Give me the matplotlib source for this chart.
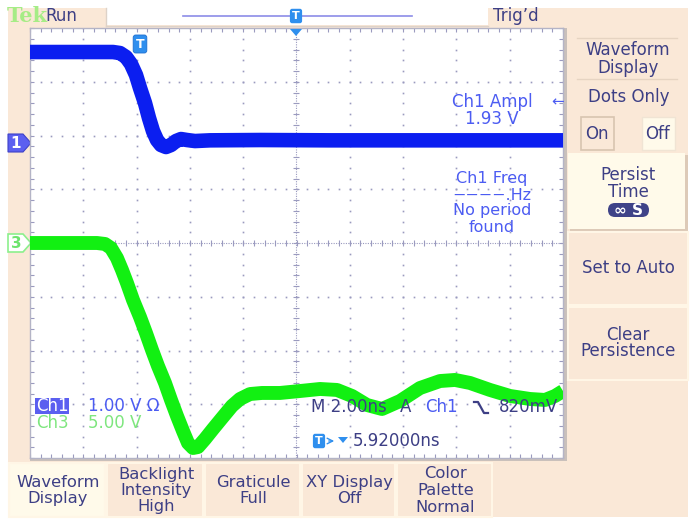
import numpy as np
import matplotlib
matplotlib.use("Agg")
import matplotlib.pyplot as plt
from matplotlib.patches import Rectangle, Polygon, FancyBboxPatch

# Kanal 1 (blau), Zeit in ns relativ zur Bildmitte, Spannung in V
ch1_t = [-10.0, -6.885, -6.623, -6.398, -6.210, -6.022, -5.872, -5.685, -5.535,
         -5.385, -5.234, -5.084, -4.897, -4.709, -4.521, -4.334, -4.109, -3.809,
         -3.246, -1.37, 1.26, 4.63, 10.0]
ch1_v = [1.693, 1.693, 1.674, 1.600, 1.470, 1.265, 1.023, 0.744, 0.465,
         0.223, 0.056, -0.037, -0.074, -0.037, 0.037, 0.074, 0.056, 0.037,
         0.050, 0.056, 0.050, 0.050, 0.050]

# Kanal 3 (gruen)
ch3_t = [-10.0, -7.486, -7.186, -6.961, -6.736, -6.548, -6.361, -6.135, -5.873,
         -5.648, -5.422, -5.197, -4.934, -4.709, -4.484, -4.259, -4.071, -3.884,
         -3.696, -3.433, -3.133, -2.795, -2.420, -2.120, -1.745, -1.295, -0.619,
         0.131, 0.882, 1.520, 2.083, 2.645, 3.208, 3.884, 4.634, 5.385, 5.948,
         6.510, 7.261, 8.011, 8.762, 9.325, 9.700, 10.0]
ch3_v = [0.0, 0.0, -0.09, -0.47, -1.40, -2.51, -3.72, -5.30, -6.88,
         -8.37, -9.95, -11.44, -13.02, -14.60, -16.09, -17.49, -18.60, -19.07,
         -18.98, -18.23, -17.30, -16.28, -15.16, -14.51, -14.05, -13.95, -13.95,
         -13.77, -13.58, -13.67, -14.23, -15.07, -15.44, -14.70, -13.49, -12.84, -12.74,
         -13.02, -13.67, -14.23, -14.51, -14.60, -14.23, -13.77]

ch1_volts_per_div = 1.0
ch3_volts_per_div = 5.0
ch1_offset_div = 1.86
ch3_offset_div = 0.0
time_per_div = 2.0

side_buttons = [["Set to Auto"], ["Clear", "Persistence"]]
bottom_buttons = [["Waveform", "Display"], ["Backlight", "Intensity", "High"],
                  ["Graticule", "Full"], ["XY Display", "Off"],
                  ["Color", "Palette", "Normal"]]

PEACH = "#fae8d7"
CREAM = "#fffaea"
NAVY = "#3d3f85"
MBLUE = "#4c5cf2"
TRACE1 = "#0b1ef0"
TRACE3 = "#12f012"
GRID = "#9a9abf"
TBLUE = "#2f8fee"


def main():
    plt.rcParams["font.family"] = ["DejaVu Sans"]
    W, H = 696, 519
    fig = plt.figure(figsize=(W / 100, H / 100), dpi=100, facecolor="white")

    # Hintergrund in Pixelkoordinaten
    bg = fig.add_axes([0, 0, 1, 1], zorder=0)
    bg.set_xlim(0, W)
    bg.set_ylim(H, 0)
    bg.axis("off")

    bg.add_patch(Rectangle((8, 8), 680, 509, fc=PEACH, ec="none"))
    bg.add_patch(Rectangle((106, 8), 382, 17, fc="white", ec="none"))
    bg.plot([106, 488], [25.5, 25.5], color="#ddd2c8", lw=1)
    bg.plot([106, 106], [8, 25.5], color="#ddd2c8", lw=1)
    bg.add_patch(Rectangle((30, 28), 537, 433, fc="#c9c0bb", ec="none"))

    # Kopfzeile
    bg.text(7, 16.5, "Tek", color="#a6ec86", fontsize=15, fontweight="bold",
            family="DejaVu Serif", va="center", ha="left")
    bg.text(45, 16, "Run", color=NAVY, fontsize=12, va="center", ha="left")
    bg.text(493, 16, "Trig\u2019d", color=NAVY, fontsize=12, va="center", ha="left")
    bg.plot([183, 412], [16, 16], color="#8c8ce8", lw=1.2)

    # rechte Leiste
    bg.plot([577, 677], [38, 38], color="#e6d4c2", lw=1)
    bg.plot([577, 677], [79, 79], color="#e6d4c2", lw=1)
    bg.text(628, 50, "Waveform", color=NAVY, fontsize=12, ha="center", va="center")
    bg.text(628, 68, "Display", color=NAVY, fontsize=12, ha="center", va="center")
    bg.text(629, 97, "Dots Only", color=NAVY, fontsize=12, ha="center", va="center")
    bg.add_patch(Rectangle((581, 117), 33, 33, fc=PEACH, ec="#d8c4b0", lw=1.2))
    bg.add_patch(Rectangle((642, 117), 33, 33, fc=CREAM, ec="#f0e4d4", lw=1))
    bg.text(597, 134, "On", color=NAVY, fontsize=12, ha="center", va="center")
    bg.text(658, 134, "Off", color=NAVY, fontsize=12, ha="center", va="center")

    bg.add_patch(Rectangle((570, 155), 118, 77, fc="#ddcab8", ec="none"))
    bg.add_patch(Rectangle((568, 153), 117, 76, fc=CREAM, ec="none"))
    bg.text(628, 175, "Persist", color=NAVY, fontsize=12, ha="center", va="center")
    bg.text(628, 192, "Time", color=NAVY, fontsize=12, ha="center", va="center")
    bg.add_patch(FancyBboxPatch((608, 203), 41, 14, boxstyle="round,pad=0,rounding_size=7",
                                fc="#3f4388", ec="none"))
    bg.text(628.5, 210.5, "\u221e S", color="white", fontsize=11, fontweight="bold",
            ha="center", va="center")

    y0 = 232
    for lines in side_buttons:
        bg.add_patch(Rectangle((568, y0), 120, 73, fc=PEACH, ec="#fff6e6", lw=1.5))
        cy = y0 + 36
        for i, txt in enumerate(lines):
            off = (i - (len(lines) - 1) / 2) * 17
            bg.text(628, cy + off, txt, color=NAVY, fontsize=12, ha="center", va="center")
        y0 += 75
    bg.plot([568, 688, 688], [380, 380, 232], color="#fff6e6", lw=1.5)

    # untere Tasten
    x_edges = [8, 106, 204, 301, 396, 493]
    for k, lines in enumerate(bottom_buttons):
        x_a, x_b = x_edges[k], x_edges[k + 1]
        fc = CREAM if k == 0 else PEACH
        bg.add_patch(Rectangle((x_a + 1, 463), x_b - x_a - 2, 54, fc=fc,
                               ec="#fff6e6", lw=1.5))
        cx = (x_a + x_b) / 2 + 1
        for i, txt in enumerate(lines):
            off = (i - (len(lines) - 1) / 2) * 16.5
            bg.text(cx, 490.5 + off, txt, color=NAVY, fontsize=11.8,
                    ha="center", va="center")

    # Kanalmarker
    bg.add_patch(Polygon([(8, 134), (23, 134), (31, 143), (23, 152), (8, 152)],
                         fc="#5b5ff0", ec="#3e42c8", lw=0.8))
    bg.text(16, 143.5, "1", color="white", fontsize=11, fontweight="bold",
            ha="center", va="center")
    bg.add_patch(Polygon([(8, 234), (23, 234), (31, 243), (23, 252), (8, 252)],
                         fc="white", ec="#8cf08c", lw=1.2))
    bg.text(16, 243.5, "3", color="#6ee46e", fontsize=11, fontweight="bold",
            ha="center", va="center")

    # Raster
    ax = fig.add_axes([30 / W, (H - 458) / H, 533 / W, 430 / H], zorder=1)
    ax.set_facecolor("white")
    x_lo, x_hi = -5 * time_per_div, 5 * time_per_div
    ax.set_xlim(x_lo, x_hi)
    ax.set_ylim(-4, 4)

    fine_x = np.arange(x_lo, x_hi + 1e-6, time_per_div / 5)
    fine_y = np.arange(-4, 4.001, 0.2)
    for gx in np.arange(x_lo + time_per_div, x_hi - 1e-6, time_per_div):
        if abs(gx) > 1e-6:
            ax.plot(np.full_like(fine_y, gx), fine_y, ls="none", marker="s",
                    ms=1.2, mew=0, color=GRID)
    for gy in range(-3, 4):
        if gy != 0:
            ax.plot(fine_x, np.full_like(fine_x, gy), ls="none", marker="s",
                    ms=1.2, mew=0, color=GRID)
    # Mittelkreuz
    ax.axhline(0, color=GRID, lw=0.8, ls=(0, (1, 1.2)))
    ax.axvline(0, color=GRID, lw=0.8, ls=(0, (1, 1.2)))
    ax.plot(fine_x, np.zeros_like(fine_x), ls="none", marker="|", ms=5, mew=0.8, color=GRID)
    ax.plot(np.zeros_like(fine_y), fine_y, ls="none", marker="_", ms=5, mew=0.8, color=GRID)

    ax.set_xticks(fine_x)
    ax.set_yticks(fine_y)
    ax.set_xticklabels([])
    ax.set_yticklabels([])
    ax.tick_params(direction="in", length=3, width=0.8, color=GRID,
                   top=True, right=True)
    for sp in ax.spines.values():
        sp.set_color("#b4b4c6")
        sp.set_linewidth(1)

    # Kurven
    y1 = np.array(ch1_v) / ch1_volts_per_div + ch1_offset_div
    y3 = np.array(ch3_v) / ch3_volts_per_div + ch3_offset_div
    ax.plot(ch3_t, y3, color=TRACE3, lw=10, solid_joinstyle="round",
            solid_capstyle="butt", zorder=3)
    ax.plot(ch1_t, y1, color=TRACE1, lw=10.5, solid_joinstyle="round",
            solid_capstyle="butt", zorder=4)

    # Texte ueber den Kurven
    ov = fig.add_axes([0, 0, 1, 1], zorder=2)
    ov.set_xlim(0, W)
    ov.set_ylim(H, 0)
    ov.axis("off")
    ov.patch.set_alpha(0)

    # Triggermarker
    ov.text(296, 16, "T", color="white", fontsize=8, fontweight="bold", ha="center",
            va="center", bbox=dict(boxstyle="round,pad=0.2", fc=TBLUE, ec="none"))
    ov.add_patch(Polygon([(290, 29), (302, 29), (296, 36)], fc=TBLUE, ec="none"))
    ov.text(140, 44, "T", color="white", fontsize=9, fontweight="bold", ha="center",
            va="center", bbox=dict(boxstyle="round,pad=0.2", fc=TBLUE, ec="#1c6fd0", lw=0.6))

    # Messwerte
    ov.text(492, 102, "Ch1 Ampl", color=MBLUE, fontsize=12, ha="center", va="center")
    ov.text(492, 119, "1.93 V", color=MBLUE, fontsize=12, ha="center", va="center")
    ov.text(558, 102, "\u2190", color=MBLUE, fontsize=11, ha="center", va="center")
    ov.text(492, 178, "Ch1 Freq", color=MBLUE, fontsize=11.5, ha="center", va="center")
    ov.text(492, 195, "\u2212\u2212\u2212\u2212.Hz", color=MBLUE, fontsize=11.5,
            ha="center", va="center")
    ov.text(492, 211, "No period", color=MBLUE, fontsize=11.5, ha="center", va="center")
    ov.text(492, 228, "found", color=MBLUE, fontsize=11.5, ha="center", va="center")

    # Kanalbeschriftung unten links
    ov.add_patch(Rectangle((35, 398), 34, 16, fc="#5b5ff0", ec="none"))
    ov.text(52, 406, "Ch1", color="white", fontsize=12, ha="center", va="center")
    ov.text(88, 406, "1.00 V \u03a9", color=MBLUE, fontsize=12, ha="left", va="center")
    ov.text(36, 423, "Ch3", color="#7ee67e", fontsize=12, ha="left", va="center")
    ov.text(88, 423, "5.00 V", color="#7ee67e", fontsize=12, ha="left", va="center")

    # Zeitbasis und Trigger
    ov.text(311, 407, "M 2.00ns", color=NAVY, fontsize=12, ha="left", va="center")
    ov.text(400, 407, "A", color=NAVY, fontsize=12, ha="left", va="center")
    ov.text(425, 407, "Ch1", color=MBLUE, fontsize=12, ha="left", va="center")
    ov.plot([474, 478, 484, 488], [402, 402, 413, 413], color=NAVY, lw=1.6)
    ov.text(558, 407, "820mV", color=NAVY, fontsize=12, ha="right", va="center")

    ov.text(319, 441, "T", color="white", fontsize=8, fontweight="bold", ha="center",
            va="center", bbox=dict(boxstyle="round,pad=0.2", fc=TBLUE, ec="none"))
    ov.annotate("", xy=(337, 441), xytext=(326, 441),
                arrowprops=dict(arrowstyle="->", color=TBLUE, lw=1))
    ov.add_patch(Polygon([(338, 437), (348, 437), (343, 443)], fc=TBLUE, ec="none"))
    ov.text(353, 441, "5.92000ns", color=NAVY, fontsize=12, ha="left", va="center")

    fig.savefig("out.png", dpi=100, facecolor="white")
    plt.close(fig)


if __name__ == "__main__":
    main()
